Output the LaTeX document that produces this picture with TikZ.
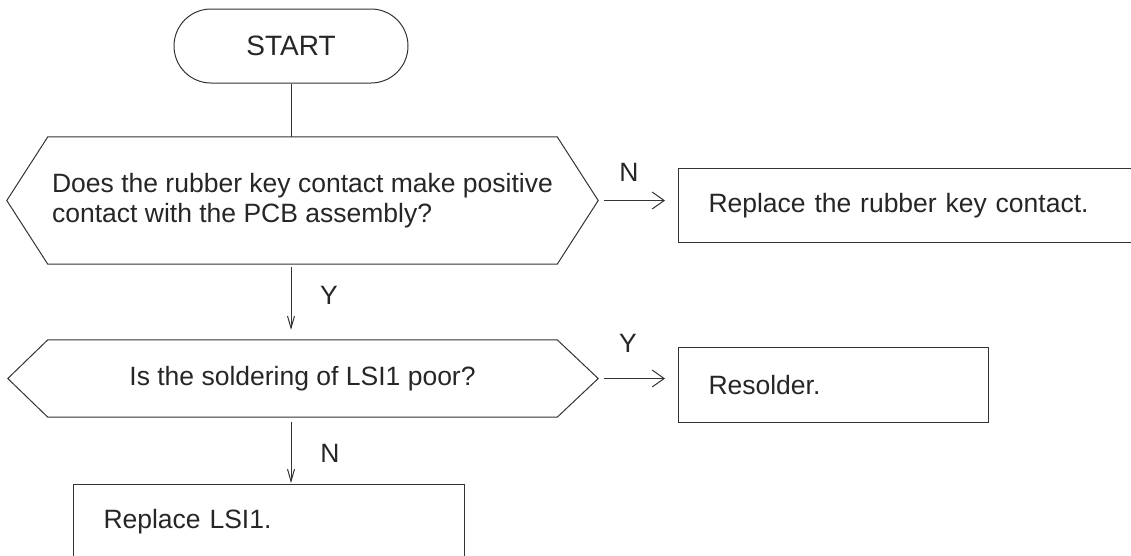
\documentclass[tikz,border=0pt]{standalone}
\usepackage{fontspec}
\setmainfont{Liberation Sans}
\usetikzlibrary{arrows.meta}

\tikzset{
  line/.style={draw=black!80, line width=1pt},
  txt/.style={font=\fontsize{26.5}{30}\selectfont, text=black!85},
  box/.style={txt, line, rectangle, inner xsep=30pt, inner ysep=0pt, align=left},
  quest/.style={txt, rectangle, inner sep=0pt, minimum width=509pt, align=left},
  hor/.style={line, -{Straight Barb[length=12pt,width=17pt]}},
  ver/.style={line, -{Straight Barb[length=12pt,width=7pt]}}
}

\begin{document}
\begin{tikzpicture}[x=1pt, y=-1pt]
    \useasboundingbox (0,0) rectangle (1131,555);
    \clip (0,0) rectangle (1131,555);
    %Start
    \node[txt, font=\fontsize{28}{30}\selectfont, line, minimum width=234pt, minimum height=74pt, rounded corners=37pt] (st) at (291,46) {START};
    %Rubber contact check
    \node[quest, minimum height=127pt] (q1) at (302.5,200.5) {Does the rubber key contact make positive\\contact with the PCB assembly?};
    \coordinate (q1w) at ([xshift=-41pt]q1.west);
    \coordinate (q1e) at ([xshift=41pt]q1.east);
    \draw[line] (q1.north west) -- (q1.north east) -- (q1e) -- (q1.south east) -- (q1.south west) -- (q1w) -- cycle;
    \node[box, anchor=north west, minimum height=74pt, text width=410pt] (b1) at (678,168) {Replace the rubber key contact.};
    %Soldering check
    \node[quest, minimum height=77pt, align=center] (q2) at (302.5,378.5) {Is the soldering of LSI1 poor?};
    \coordinate (q2w) at ([xshift=-40pt]q2.west);
    \coordinate (q2e) at ([xshift=41pt]q2.east);
    \draw[line] (q2.north west) -- (q2.north east) -- (q2e) -- (q2.south east) -- (q2.south west) -- (q2w) -- cycle;
    \node[box, anchor=north west, minimum height=75pt, text width=250pt] (b2) at (678,347) {Resolder.};
    \node[box, anchor=north west, minimum height=74pt, text width=331pt] (b3) at (73,484) {Replace LSI1.};
    %Connectors
    \draw[line] (st.south) -- (st.south |- q1.north);
    \draw[hor, shorten <=6pt, shorten >=13pt] (q1e) -- (q1e -| b1.west);
    \draw[hor, shorten <=6pt, shorten >=13pt] (q2e) -- (q2e -| b2.west);
    \draw[ver, shorten <=3pt, shorten >=10pt] (st.south |- q1.south) -- (st.south |- q2.north);
    \draw[ver, shorten <=5pt, shorten >=1pt] (st.south |- q2.south) -- (st.south |- b3.north);
    %Labels
    \node[txt] (n1) at (629,172) {N};
    \node[txt] (y1) at (329,295) {Y};
    \node[txt] (y2) at (628,343) {Y};
    \node[txt] (n2) at (330,453) {N};
\end{tikzpicture}
\end{document}
